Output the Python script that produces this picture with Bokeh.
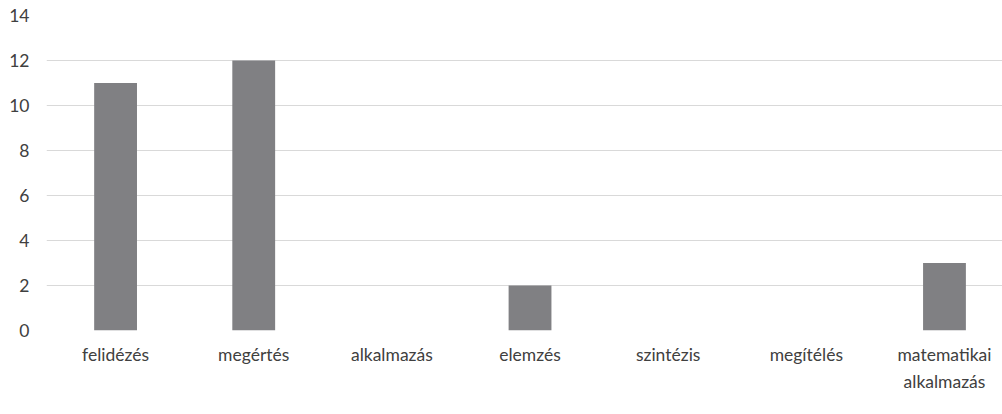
from bokeh.plotting import figure
from bokeh.models import Range1d, FixedTicker, ColumnDataSource
from bokeh.embed import file_html
from bokeh.resources import INLINE

categories = ["felidézés", "megértés", "alkalmazás", "elemzés", "szintézis", "megítélés", "matematikai\nalkalmazás"]
values = [11, 12, 0, 2, 0, 0, 3]
y_ticks = [0, 2, 4, 6, 8, 10, 12, 14]

xs = [i + 0.5 for i in range(len(categories))]
src = ColumnDataSource(dict(x=xs, top=values))

p = figure(width=1002, height=414, output_backend="svg", toolbar_location=None,
           x_range=Range1d(0, 6.92), y_range=Range1d(0, 14),
           min_border_left=46, min_border_right=0, min_border_top=15, min_border_bottom=84)
p.outline_line_color = None
p.background_fill_color = "white"
p.border_fill_color = "white"

p.vbar(x="x", top="top", width=0.31, bottom=0, source=src, fill_color="#808083", line_color=None)

p.xaxis.ticker = FixedTicker(ticks=xs)
p.xaxis.major_label_overrides = {x: c for x, c in zip(xs, categories)}
p.yaxis.ticker = FixedTicker(ticks=y_ticks)

for ax in (p.xaxis[0], p.yaxis[0]):
    ax.axis_line_color = None
    ax.major_tick_line_color = None
    ax.minor_tick_line_color = None
    ax.major_label_text_font = "Lato"
    ax.major_label_text_font_size = "17.5px"
    ax.major_label_text_color = "#404040"
    ax.major_tick_out = 0
    ax.major_tick_in = 0

p.yaxis.major_label_standoff = 17
p.xaxis.major_label_standoff = 13
p.xaxis.major_label_text_line_height = 1.3

p.xgrid.grid_line_color = None
p.ygrid.grid_line_color = "#d9d9d9"
p.ygrid.grid_line_width = 1

open("out.html", "w").write(file_html(p, INLINE))
